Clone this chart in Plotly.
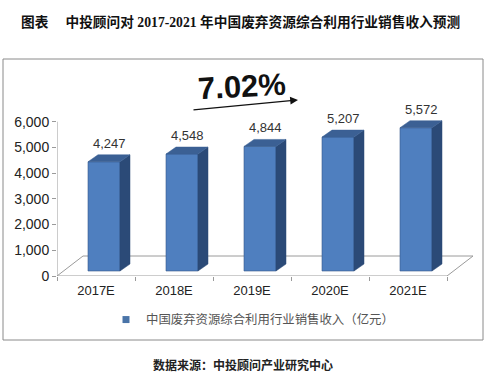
import plotly.graph_objects as go

# ---------------- data ----------------
categories = ["2017E", "2018E", "2019E", "2020E", "2021E"]
values = [4247, 4548, 4844, 5207, 5572]
y_ticks = [0, 1000, 2000, 3000, 4000, 5000, 6000]
y_tick_labels = ["0", "1,000", "2,000", "3,000", "4,000", "5,000", "6,000"]
series_name = "中国废弃资源综合利用行业销售收入（亿元）"
growth_label = "7.02%"
title_text = "图表　 中投顾问对 2017-2021 年中国废弃资源综合利用行业销售收入预测"
source_text = "数据来源：中投顾问产业研究中心"

# ---------------- geometry (style constants, pixels) ----------------
W, H = 487, 373
PL, PR, PT, PB = 57, 473, 62, 276          # plot area in pixels
CAT_PX = 78.0                              # px per category
FLOOR_DX, FLOOR_DY = 26.0, 20.0            # floor depth in px
Y_PX_PER_UNIT = (276 - 121.7) / 6000.0
BAR_L, BAR_R = -8.0, 24.0                  # front face offsets from cat centre (px)
BAR_DX, BAR_DY = 10.0, 7.0                 # bar depth (px)
BAR_LIFT = 5.0                             # front face bottom above front floor edge (px)

x_min = -0.5
x_max = 4.5 + FLOOR_DX / CAT_PX
y_max = (PB - PT) / Y_PX_PER_UNIT

def ux(px):
    return px / CAT_PX

def uy(px):
    return px / Y_PX_PER_UNIT

def fx(px):
    return px / W

def fy(py):
    return 1 - py / H

FRONT = "#4f7fbf"
SIDE = "#2b4a77"
TOP = "#3b6094"
EDGE = "#36588a"
AXIS = "#9a9a9a"

xs = list(range(len(categories)))
lift = uy(BAR_LIFT)

fig = go.Figure()

# side and top faces
for i, v in zip(xs, values):
    xr = i + ux(BAR_R)
    xl = i + ux(BAR_L)
    dx, dy = ux(BAR_DX), uy(BAR_DY)
    fig.add_trace(go.Scatter(
        x=[xr, xr + dx, xr + dx, xr, xr],
        y=[lift, lift + dy, v + lift + dy, v + lift, lift],
        fill="toself", fillcolor=SIDE, mode="lines",
        line=dict(color=SIDE, width=0.5), showlegend=False, hoverinfo="skip"))
    fig.add_trace(go.Scatter(
        x=[xl, xr, xr + dx, xl + dx, xl],
        y=[v + lift, v + lift, v + lift + dy, v + lift + dy, v + lift],
        fill="toself", fillcolor=TOP, mode="lines",
        line=dict(color=TOP, width=0.5), showlegend=False, hoverinfo="skip"))

# front faces
fig.add_trace(go.Bar(
    x=[i + ux((BAR_L + BAR_R) / 2) for i in xs], y=values, base=lift,
    width=ux(BAR_R - BAR_L), marker=dict(color=FRONT, line=dict(color=EDGE, width=0.6)),
    showlegend=False, hoverinfo="skip"))

# legend proxy
fig.add_trace(go.Scatter(
    x=[None], y=[None], mode="markers", name=series_name,
    marker=dict(symbol="square", size=7, color="#4a74a8")))

annotations = []
for i, v in zip(xs, values):
    annotations.append(dict(
        x=i + ux((BAR_L + BAR_R + BAR_DX) / 2), y=v + lift + uy(BAR_DY),
        xref="x", yref="y", text=f"{v:,}", showarrow=False,
        xanchor="center", yanchor="bottom", yshift=2,
        font=dict(family="Arial, Liberation Sans", size=13, color="#333333")))

# growth label and arrow
annotations.append(dict(
    x=fx(241.5), y=fy(87), xref="paper", yref="paper", text=growth_label,
    xanchor="center", yanchor="middle",
    showarrow=False, textangle=-3,
    font=dict(family="Arial, Liberation Sans", size=31, color="#111111", weight="bold")))
annotations.append(dict(
    x=fx(298), y=fy(100), xref="paper", yref="paper", text="",
    showarrow=True, ax=-106, ay=10, arrowhead=2, arrowsize=1.2, arrowwidth=1.3,
    arrowcolor="#111111", standoff=0, startstandoff=0))

# title and source
annotations.append(dict(
    x=fx(240), y=fy(22), xref="paper", yref="paper", text="<b>" + title_text + "</b>",
    xanchor="center", yanchor="middle", showarrow=False,
    font=dict(family="Liberation Serif, Noto Sans CJK SC", size=13.7, color="#111111")))
annotations.append(dict(
    x=fx(243), y=fy(364), xref="paper", yref="paper", text="<b>" + source_text + "</b>",
    xanchor="center", yanchor="middle", showarrow=False,
    font=dict(family="Noto Sans CJK SC", size=12, color="#222222")))

shapes = [
    # chart frame
    dict(type="rect", xref="paper", yref="paper", x0=fx(3), x1=fx(483), y0=fy(59), y1=fy(340),
         line=dict(color="#8a8a8a", width=1), layer="below"),
    # y axis line
    dict(type="line", xref="x", yref="y", x0=x_min, x1=x_min, y0=0, y1=6000,
         line=dict(color=AXIS, width=1)),
    # floor front edge (x axis)
    dict(type="line", xref="x", yref="y", x0=x_min, x1=4.5, y0=0, y1=0,
         line=dict(color=AXIS, width=1)),
    # floor left edge
    dict(type="line", xref="x", yref="y", x0=x_min, x1=x_min + ux(FLOOR_DX), y0=0, y1=uy(FLOOR_DY),
         line=dict(color=AXIS, width=1), layer="below"),
    # floor back edge
    dict(type="line", xref="x", yref="y", x0=x_min + ux(FLOOR_DX), x1=x_max, y0=uy(FLOOR_DY), y1=uy(FLOOR_DY),
         line=dict(color=AXIS, width=1), layer="below"),
    # floor right edge
    dict(type="line", xref="x", yref="y", x0=4.5, x1=x_max, y0=0, y1=uy(FLOOR_DY),
         line=dict(color=AXIS, width=1), layer="below"),
]

fig.update_layout(
    template="none",
    width=W, height=H, margin=dict(l=0, r=0, t=0, b=0, pad=0), autosize=False,
    paper_bgcolor="white", plot_bgcolor="rgba(0,0,0,0)",
    showlegend=True, hovermode=False,
    legend=dict(orientation="h", x=fx(106), y=fy(320), xanchor="left", yanchor="middle",
                font=dict(family="Noto Sans CJK SC", size=12.4, color="#555555"),
                bgcolor="rgba(0,0,0,0)", itemwidth=30),
    xaxis=dict(domain=[fx(PL), fx(PR)], range=[x_min, x_max], showgrid=False, zeroline=False,
               automargin=False,
               showline=False, tickmode="array", tickvals=xs, ticktext=categories, ticks="",
               ticklabelstandoff=5,
               tickfont=dict(family="Arial, Liberation Sans", size=13, color="#222222"),
               minor=dict(tickmode="linear", tick0=0.5, dtick=1, ticks="outside", ticklen=4,
                          tickcolor=AXIS, showgrid=False)),
    yaxis=dict(domain=[fy(PB), fy(PT)], range=[0, y_max], showgrid=False, zeroline=False,
               automargin=False,
               showline=False, tickmode="array", tickvals=y_ticks, ticktext=y_tick_labels,
               ticks="outside", ticklen=4, tickcolor=AXIS,
               tickfont=dict(family="Arial, Liberation Sans", size=14, color="#222222")),
    annotations=annotations, shapes=shapes, bargap=0,
)

fig.write_html(
    "out.html",
    config={"displayModeBar": False, "staticPlot": True},
    post_script="document.body.style.margin='0';document.body.style.overflow='hidden';",
)
